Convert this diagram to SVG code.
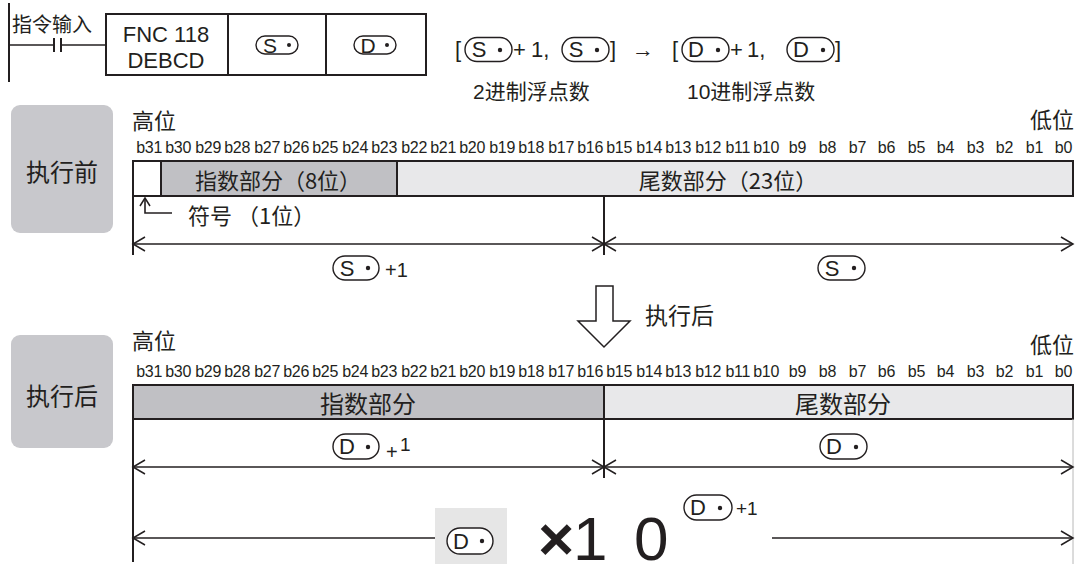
<svg xmlns="http://www.w3.org/2000/svg" width="1075" height="564" viewBox="0 0 1075 564">
<defs>
<style>
text{font-family:"Liberation Sans","Noto Sans CJK SC",sans-serif;fill:#231f20}
.cjk{font-family:"Noto Sans CJK SC","Liberation Sans",sans-serif}
.ln{stroke:#231f20;stroke-width:1.6;fill:none}
.bd{stroke:#231f20;stroke-width:2;fill:none}
.pill{fill:#fff;stroke:#231f20;stroke-width:1.4}
.dot{fill:#231f20}
.bit{font-size:16px;text-anchor:end;letter-spacing:-0.3px}
.mid{text-anchor:middle}
.dim{stroke:#231f20;stroke-width:1.5;fill:none;marker-start:url(#ah);marker-end:url(#ah)}
</style>
<marker id="ah" viewBox="-14 -8 16 16" refX="0" refY="0" markerWidth="16" markerHeight="16" markerUnits="userSpaceOnUse" orient="auto-start-reverse">
<path d="M-12,-7 L0,0 L-12,7" fill="none" stroke="#231f20" stroke-width="1.5"/>
</marker>
<marker id="ahs" viewBox="-10 -6 12 12" refX="0" refY="0" markerWidth="12" markerHeight="12" markerUnits="userSpaceOnUse" orient="auto">
<path d="M-8,-5 L0,0 L-8,5" fill="none" stroke="#231f20" stroke-width="1.5"/>
</marker>
</defs>
<rect width="1075" height="564" fill="#fff"/>

<!-- ladder instruction -->
<g id="ladder">
<line class="bd" x1="9" y1="3" x2="9" y2="82"/>
<line class="ln" x1="9" y1="45" x2="54" y2="45"/>
<line class="bd" x1="54" y1="38" x2="54" y2="52"/>
<line class="bd" x1="61" y1="38" x2="61" y2="52"/>
<line class="ln" x1="61" y1="45" x2="106" y2="45"/>
<text class="cjk" x="12" y="32" font-size="20">指令输入</text>
<rect class="bd" x="106" y="14" width="320" height="61"/>
<line class="bd" x1="228" y1="14" x2="228" y2="75"/>
<line class="bd" x1="326" y1="14" x2="326" y2="75"/>
<text class="mid" x="166" y="42" font-size="22">FNC 118</text>
<text class="mid" x="166" y="68" font-size="22">DEBCD</text>
<rect class="pill" x="256" y="36" width="42" height="18" rx="9"/>
<text class="mid" x="270" y="52.5" font-size="21">S</text>
<circle class="dot" cx="289" cy="45" r="2"/>
<rect class="pill" x="354" y="36" width="42" height="18" rx="9"/>
<text class="mid" x="368" y="52.5" font-size="21">D</text>
<circle class="dot" cx="387" cy="45" r="2"/>
</g>

<!-- formula -->
<g id="formula">
<text x="455" y="57" font-size="22">[</text>
<rect class="pill" x="465" y="37.5" width="47" height="24" rx="12"/>
<text class="mid" x="479" y="57" font-size="22">S</text>
<circle class="dot" cx="500" cy="50" r="2.2"/>
<text x="513" y="57" font-size="22">+</text>
<text x="531" y="57" font-size="22">1,</text>
<rect class="pill" x="562" y="37.5" width="47" height="24" rx="12"/>
<text class="mid" x="576" y="57" font-size="22">S</text>
<circle class="dot" cx="597" cy="50" r="2.2"/>
<text x="610" y="57" font-size="22">]</text>
<text x="632" y="57" font-size="22" font-family="DejaVu Sans, sans-serif">→</text>
<text x="672" y="57" font-size="22">[</text>
<rect class="pill" x="682" y="37.5" width="47" height="24" rx="12"/>
<text class="mid" x="696" y="57" font-size="22">D</text>
<circle class="dot" cx="718" cy="50" r="2.2"/>
<text x="730" y="57" font-size="22">+</text>
<text x="747" y="57" font-size="22">1,</text>
<rect class="pill" x="787" y="37.5" width="47" height="24" rx="12"/>
<text class="mid" x="801" y="57" font-size="22">D</text>
<circle class="dot" cx="823" cy="50" r="2.2"/>
<text x="835" y="57" font-size="22">]</text>
<text x="473" y="99" font-size="21">2进制浮点数</text>
<text x="687" y="99" font-size="21">10进制浮点数</text>
</g>

<!-- before section -->
<g id="before-label">
<rect x="11" y="105" width="102" height="128" rx="9" fill="#c8c8cc"/>
<text class="cjk mid" x="62" y="181" font-size="24">执行前</text>
</g>
<g id="before-register">
<text class="cjk" x="132" y="129" font-size="22">高位</text>
<text class="cjk" x="1074" y="128" font-size="22" text-anchor="end">低位</text>
<g id="bits1">
<text class="bit" x="162" y="153">b31</text><text class="bit" x="191" y="153">b30</text><text class="bit" x="221" y="153">b29</text><text class="bit" x="250" y="153">b28</text>
<text class="bit" x="280" y="153">b27</text><text class="bit" x="309" y="153">b26</text><text class="bit" x="338" y="153">b25</text><text class="bit" x="368" y="153">b24</text>
<text class="bit" x="397" y="153">b23</text><text class="bit" x="427" y="153">b22</text><text class="bit" x="456" y="153">b21</text><text class="bit" x="485" y="153">b20</text>
<text class="bit" x="515" y="153">b19</text><text class="bit" x="544" y="153">b18</text><text class="bit" x="574" y="153">b17</text><text class="bit" x="603" y="153">b16</text>
<text class="bit" x="632" y="153">b15</text><text class="bit" x="662" y="153">b14</text><text class="bit" x="691" y="153">b13</text><text class="bit" x="721" y="153">b12</text>
<text class="bit" x="750" y="153">b11</text><text class="bit" x="779" y="153">b10</text><text class="bit" x="806" y="153">b9</text><text class="bit" x="836" y="153">b8</text>
<text class="bit" x="866" y="153">b7</text><text class="bit" x="895" y="153">b6</text><text class="bit" x="925" y="153">b5</text><text class="bit" x="954" y="153">b4</text>
<text class="bit" x="984" y="153">b3</text><text class="bit" x="1013" y="153">b2</text><text class="bit" x="1043" y="153">b1</text><text class="bit" x="1072" y="153">b0</text>
</g>
<rect x="133" y="161" width="28" height="35" fill="#fff"/>
<rect x="161" y="161" width="236" height="35" fill="#c0c0c4"/>
<rect x="397" y="161" width="676" height="35" fill="#e8e8ea"/>
<rect class="bd" x="133" y="161" width="940" height="35"/>
<line class="bd" x1="161" y1="161" x2="161" y2="196"/>
<line class="bd" x1="397" y1="161" x2="397" y2="196"/>
<text class="cjk mid" x="278" y="189" font-size="22">指数部分（8位）</text>
<text class="cjk mid" x="728" y="189" font-size="22">尾数部分（23位）</text>
<text class="cjk" x="188" y="224" font-size="22">符号 （1位）</text>
</g>

<!-- after section -->
<g id="after-label">
<rect x="11" y="335" width="102" height="113" rx="9" fill="#c8c8cc"/>
<text class="cjk mid" x="62" y="405" font-size="24">执行后</text>
</g>
<g id="transition">
<polygon points="596,286 613,286 613,321 630,321 604,347 578,321 596,321" fill="#fff" stroke="#231f20" stroke-width="1.5"/>
<text class="cjk" x="645" y="324" font-size="23">执行后</text>
</g>
<g id="after-register">
<text class="cjk" x="132" y="349" font-size="22">高位</text>
<text class="cjk" x="1074" y="353" font-size="22" text-anchor="end">低位</text>
<g id="bits2">
<text class="bit" x="162" y="377">b31</text><text class="bit" x="191" y="377">b30</text><text class="bit" x="221" y="377">b29</text><text class="bit" x="250" y="377">b28</text>
<text class="bit" x="280" y="377">b27</text><text class="bit" x="309" y="377">b26</text><text class="bit" x="338" y="377">b25</text><text class="bit" x="368" y="377">b24</text>
<text class="bit" x="397" y="377">b23</text><text class="bit" x="427" y="377">b22</text><text class="bit" x="456" y="377">b21</text><text class="bit" x="485" y="377">b20</text>
<text class="bit" x="515" y="377">b19</text><text class="bit" x="544" y="377">b18</text><text class="bit" x="574" y="377">b17</text><text class="bit" x="603" y="377">b16</text>
<text class="bit" x="632" y="377">b15</text><text class="bit" x="662" y="377">b14</text><text class="bit" x="691" y="377">b13</text><text class="bit" x="721" y="377">b12</text>
<text class="bit" x="750" y="377">b11</text><text class="bit" x="779" y="377">b10</text><text class="bit" x="806" y="377">b9</text><text class="bit" x="836" y="377">b8</text>
<text class="bit" x="866" y="377">b7</text><text class="bit" x="895" y="377">b6</text><text class="bit" x="925" y="377">b5</text><text class="bit" x="954" y="377">b4</text>
<text class="bit" x="984" y="377">b3</text><text class="bit" x="1013" y="377">b2</text><text class="bit" x="1043" y="377">b1</text><text class="bit" x="1072" y="377">b0</text>
</g>
<rect x="133" y="385" width="471" height="34" fill="#c0c0c4"/>
<rect x="604" y="385" width="469" height="34" fill="#e8e8ea"/>
<rect class="bd" x="133" y="385" width="940" height="34"/>
<line class="bd" x1="604" y1="385" x2="604" y2="419"/>
<text class="cjk mid" x="368" y="413" font-size="24">指数部分</text>
<text class="cjk mid" x="843" y="413" font-size="24">尾数部分</text>
</g>

<!-- labels on dimension lines -->
<g id="labels">
<rect class="pill" x="333" y="256" width="46" height="24" rx="12"/>
<text class="mid" x="347" y="276" font-size="22">S</text>
<circle class="dot" cx="368" cy="268" r="2.2"/>
<text x="385" y="277" font-size="20">+1</text>
<rect class="pill" x="818" y="256" width="47" height="24" rx="12"/>
<text class="mid" x="832" y="276" font-size="22">S</text>
<circle class="dot" cx="854" cy="268" r="2.2"/>

<rect class="pill" x="333" y="434" width="46" height="25" rx="12.5"/>
<text class="mid" x="347" y="454" font-size="22">D</text>
<circle class="dot" cx="368" cy="447" r="2.2"/>
<text x="386" y="459" font-size="20">+</text>
<text x="400" y="451" font-size="19">1</text>
<rect class="pill" x="820" y="434" width="47" height="25" rx="12.5"/>
<text class="mid" x="834" y="454" font-size="22">D</text>
<circle class="dot" cx="856" cy="447" r="2.2"/>

<rect x="435" y="508" width="72" height="56" fill="#e6e6e6"/>
<rect class="pill" x="447" y="528" width="46" height="26" rx="13"/>
<text class="mid" x="461" y="549" font-size="22">D</text>
<circle class="dot" cx="482" cy="541" r="2.2"/>
<text y="560" font-size="62"><tspan x="538" font-weight="bold">×</tspan><tspan x="573 607 634">1 0</tspan></text>
<rect class="pill" x="684" y="495" width="48" height="25" rx="12.5"/>
<text class="mid" x="698" y="515" font-size="22">D</text>
<circle class="dot" cx="720" cy="508" r="2.2"/>
<text x="736" y="515" font-size="19">+1</text>
</g>

<!-- connectors -->
<g id="connectors">
<line class="bd" x1="133" y1="196" x2="133" y2="255"/>
<line class="bd" x1="604" y1="196" x2="604" y2="255"/>
<path class="ln" d="M172,213 H145 V198" marker-end="url(#ahs)"/>
<path class="dim" d="M133,244 H604"/>
<path class="dim" d="M604,244 H1073"/>

<line class="bd" x1="133" y1="419" x2="133" y2="562"/>
<line class="bd" x1="604" y1="419" x2="604" y2="478"/>
<line x1="1073" y1="419" x2="1073" y2="564" stroke="#b8b8b8" stroke-width="1"/>
<path class="dim" d="M133,467 H604"/>
<path class="dim" d="M604,467 H1073"/>
<path class="ln" d="M435,538 H133" marker-end="url(#ah)"/>
<path class="ln" d="M772,538 H1073" marker-end="url(#ah)"/>
</g>
</svg>
